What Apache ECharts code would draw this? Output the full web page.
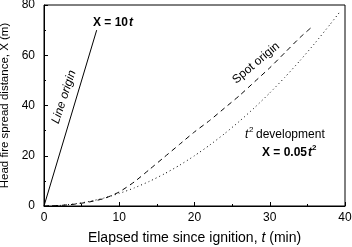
<!DOCTYPE html>
<html>
<head>
<meta charset="utf-8">
<script src="https://cdn.jsdelivr.net/npm/echarts@6/dist/echarts.min.js"></script>
<style>
html, body { margin: 0; padding: 0; background: #fff; }
#chart { width: 352px; height: 247px; }
</style>
</head>
<body>
<div id="chart"></div>
<script>
// values: [t (min), X (m)]
var lineOrigin = [[0, 0], [7, 70]];
var spotT = [0, 2, 4, 6, 8, 10, 12, 14, 16, 18, 20, 22, 24, 26, 28, 30, 32, 34, 35.5];
var spotX = [0, 0.2, 0.7, 1.6, 3, 5.6, 9.6, 14.5, 19.5, 24.5, 29.5, 34, 39, 44, 49.5, 55, 61, 67, 71];
var devT = [0, 2, 4, 6, 8, 10, 12, 14, 16, 18, 20, 22, 24, 26, 28, 30, 32, 34, 36, 38, 39.3];
var devX = [0, 0.2, 0.8, 1.8, 3.2, 5, 7.2, 9.8, 12.8, 16.2, 20, 24.2, 28.8, 33.8, 39.2, 45, 51.2, 57.8, 64.8, 72.2, 77.2];
var xTicks = [0, 10, 20, 30, 40];
var yTicks = [0, 20, 40, 60, 80];

function pairs(a, b) {
    var out = [];
    for (var i = 0; i < a.length; i++) out.push([a[i], b[i]]);
    return out;
}

var chart = echarts.init(document.getElementById('chart'));
var font = 'Liberation Sans, Arial, sans-serif';

var axisCommon = {
    type: 'value',
    axisLine: { show: true, lineStyle: { color: '#000', width: 1 } },
    axisTick: { show: true, inside: true, length: 4, lineStyle: { color: '#000' } },
    minorTick: { show: true, splitNumber: 2, length: 2, lineStyle: { color: '#000' } },
    splitLine: { show: false },
    axisLabel: { color: '#000', fontSize: 12, fontFamily: font },
    nameLocation: 'middle',
    nameTextStyle: { color: '#000', fontSize: 13, fontFamily: font }
};

function txt(x, y, s, extra) {
    var style = { text: s, fontSize: 12, fontFamily: font, fill: '#000' };
    for (var k in extra) style[k] = extra[k];
    return { type: 'text', x: x, y: y, style: style };
}

var option = {
    animation: false,
    backgroundColor: '#fff',
    textStyle: { fontFamily: font },
    grid: {
        left: 44, right: 7, top: 5, bottom: 41,
        outerBoundsMode: 'none',
        show: true, borderColor: '#000', borderWidth: 1
    },
    xAxis: echarts.util.merge({
        min: xTicks[0], max: xTicks[xTicks.length - 1], interval: 10,
        name: 'Elapsed time since ignition, {i|t} (min)',
        nameGap: 25,
        axisLabel: { margin: 6 },
        nameTextStyle: { fontSize: 14, rich: { i: { fontStyle: 'italic', fontSize: 14, fontFamily: font } } }
    }, axisCommon),
    yAxis: echarts.util.merge({
        min: yTicks[0], max: yTicks[yTicks.length - 1], interval: 20,
        name: 'Head fire spread distance, X (m)',
        nameGap: 30,
        axisLabel: { margin: 9 },
        nameTextStyle: { fontSize: 11.5 }
    }, axisCommon),
    series: [{
        type: 'line', data: lineOrigin, showSymbol: false,
        lineStyle: { color: '#000', width: 1 }
    }, {
        type: 'line', data: pairs(spotT, spotX), showSymbol: false, smooth: 0.2,
        lineStyle: { color: '#000', width: 1, type: [5, 4] }
    }, {
        type: 'line', data: pairs(devT, devX), showSymbol: false, smooth: 0.2,
        lineStyle: { color: '#000', width: 1, type: [1, 3] }
    }],
    graphic: [
        txt(93, 17, 'X = 10', { fontWeight: 'bold' }),
        txt(129, 17, 't', { fontWeight: 'bold', fontStyle: 'italic' }),
        {
            type: 'text', x: 64, y: 97, rotation: 72 * Math.PI / 180,
            style: {
                text: 'Line origin', fontStyle: 'italic', fontSize: 12, fontFamily: font,
                align: 'center', verticalAlign: 'middle', fill: '#000'
            }
        }, {
            type: 'text', x: 256, y: 63, rotation: 40 * Math.PI / 180,
            style: {
                text: 'Spot origin', fontSize: 12, fontFamily: font,
                align: 'center', verticalAlign: 'middle', fill: '#000'
            }
        },
        txt(245, 129, 't', { fontStyle: 'italic' }),
        txt(249, 126, '2', { fontSize: 8 }),
        txt(256, 129, 'development'),
        txt(262, 147, 'X = 0.05', { fontWeight: 'bold' }),
        txt(308, 147, 't', { fontWeight: 'bold', fontStyle: 'italic' }),
        txt(312, 144, '2', { fontWeight: 'bold', fontSize: 8 })
    ]
};
chart.setOption(option);
</script>
</body>
</html>
